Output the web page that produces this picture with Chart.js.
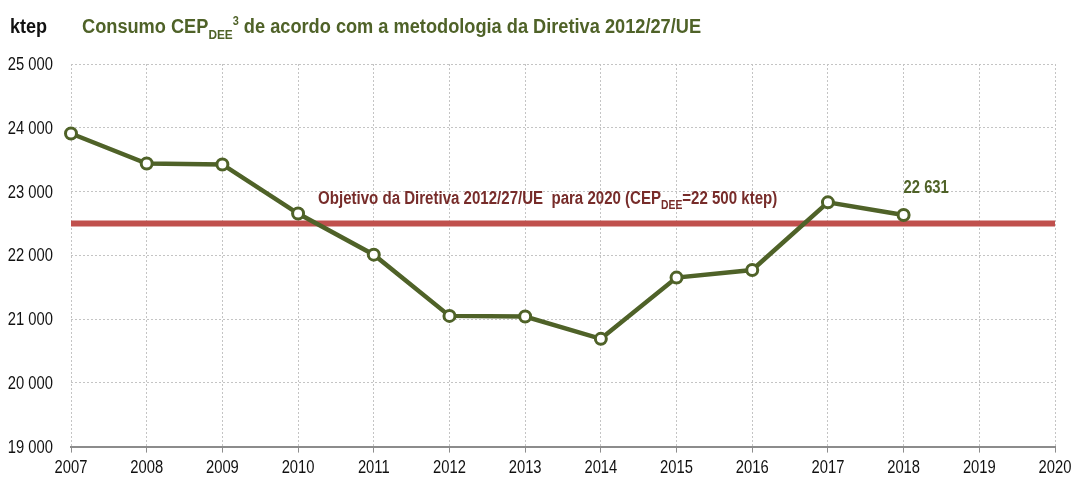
<!DOCTYPE html>
<html>
<head>
<meta charset="utf-8">
<script src="https://cdn.jsdelivr.net/npm/chart.js@4"></script>
<style>
  html, body { margin: 0; padding: 0; background: #fff; }
  #wrap { width: 1076px; height: 477px; position: relative; }
</style>
</head>
<body>
<div id="wrap"><canvas id="line-chart" width="1076" height="477"></canvas></div>
<script>
const years = ['2007','2008','2009','2010','2011','2012','2013','2014','2015','2016','2017','2018','2019','2020'];
const consumo = [23910, 23440, 23425, 22655, 22010, 21050, 21040, 20690, 21650, 21770, 22830, 22631, null, null];
const objetivo = 22500;
const lastLabel = '22 631';
const yTicks = [19000, 20000, 21000, 22000, 23000, 24000, 25000];

const green = '#4f6228';
const red = '#c0504d';
const maroon = '#772c2a';
const FONT = '"Liberation Sans", Arial, sans-serif';

function fmt(v) {
    return String(v).replace(/\B(?=(\d{3})+(?!\d))/g, ' ');
}

// no narrow font available, so squeeze the text horizontally
function narrowText(ctx, parts, x, y, size, bold, color, sx, align, baseline) {
    ctx.save();
    ctx.fillStyle = color;
    ctx.textBaseline = baseline || 'alphabetic';
    ctx.textAlign = 'left';
    const items = parts.map(p => {
        let s = size, dy = 0;
        if (p.sub) { s = Math.round(size * 0.66); dy = size * 0.28; }
        if (p.sup) { s = Math.round(size * 0.62); dy = -size * 0.42; }
        const f = (bold ? 'bold ' : '') + s + 'px ' + FONT;
        ctx.font = f;
        return {t: p.t, f: f, dy: dy, w: ctx.measureText(p.t).width};
    });
    const total = items.reduce((a, b) => a + b.w, 0);
    ctx.translate(x, y);
    ctx.scale(sx, 1);
    let cx = align === 'right' ? -total : align === 'center' ? -total / 2 : 0;
    items.forEach(it => {
        ctx.font = it.f;
        ctx.fillText(it.t, cx, it.dy);
        cx += it.w;
    });
    ctx.restore();
}

const textPlugin = {
    id: 'texts',
    afterDatasetsDraw(chart) {
        const ctx = chart.ctx;
        const xs = chart.scales.x, ys = chart.scales.y;

        // tick labels
        yTicks.forEach(v => {
            narrowText(ctx, [{t: fmt(v)}], 53, ys.getPixelForValue(v) + 1, 18, false, '#111', 0.82, 'right', 'middle');
        });
        years.forEach((y, i) => {
            narrowText(ctx, [{t: y}], xs.getPixelForValue(i), 468, 18, false, '#111', 0.82, 'center', 'middle');
        });

        narrowText(ctx, [{t: 'ktep'}], 10, 33, 21, true, '#111', 0.86);
        narrowText(ctx, [
            {t: 'Consumo CEP'}, {t: 'DEE', sub: true}, {t: '3', sup: true},
            {t: ' de acordo com a metodologia da Diretiva 2012/27/UE'}
        ], 82, 33, 20, true, green, 0.91);

        // objective label
        narrowText(ctx, [
            {t: 'Objetivo da Diretiva 2012/27/UE  para 2020 (CEP'}, {t: 'DEE', sub: true},
            {t: '=22 500 ktep)'}
        ], xs.getPixelForValue(3) + 20, ys.getPixelForValue(objetivo) - 19, 17.5, true, maroon, 0.86);

        // last value label
        const i = 11;
        narrowText(ctx, [{t: lastLabel}], xs.getPixelForValue(i), ys.getPixelForValue(consumo[i]) - 22, 18, true, green, 0.82);
    }
};

new Chart(document.getElementById('line-chart'), {
    type: 'line',
    data: {
        labels: years,
        datasets: [{
            data: consumo,
            borderColor: green,
            borderWidth: 4.5,
            pointRadius: 5.5,
            pointBorderWidth: 3,
            pointBackgroundColor: '#fff',
            pointBorderColor: green,
            tension: 0,
            order: 1
        }, {
            data: years.map(() => objetivo),
            borderColor: red,
            borderWidth: 6,
            pointRadius: 0,
            order: 2
        }]
    },
    options: {
        responsive: false,
        animation: false,
        layout: { padding: { top: 64, right: 21, left: 0, bottom: 0 } },
        plugins: {
            legend: { display: false },
            tooltip: { enabled: false }
        },
        scales: {
            x: {
                offset: false,
                grid: { color: '#c4c4c4', tickLength: 6, tickColor: '#8c8c8c', tickBorderDash: [] },
                border: { color: '#8c8c8c', width: 2, dash: [2, 2] },
                ticks: { color: 'rgba(0,0,0,0)', font: { family: FONT, size: 17 }, padding: 2, maxRotation: 0 }
            },
            y: {
                min: 19000,
                max: 25000,
                afterBuildTicks: s => { s.ticks = yTicks.map(v => ({value: v})); },
                afterFit: s => { s.width = 71; },
                grid: { color: '#c4c4c4', drawTicks: false },
                border: { display: false, dash: [2, 2] },
                ticks: { color: 'rgba(0,0,0,0)', font: { family: FONT, size: 17 }, padding: 14, callback: v => fmt(v) }
            }
        }
    },
    plugins: [textPlugin]
});
</script>
</body>
</html>
